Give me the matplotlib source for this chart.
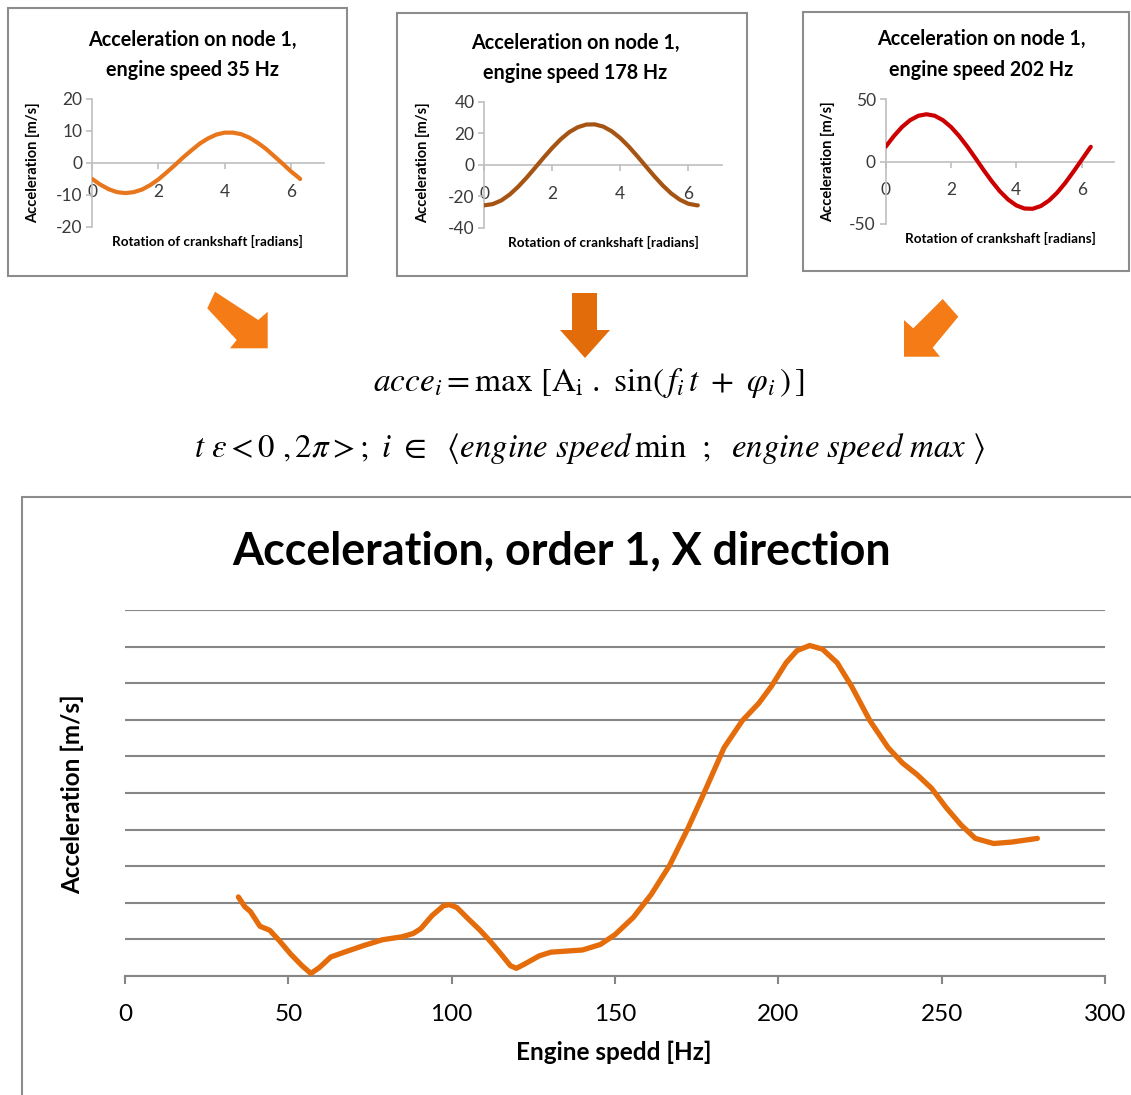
import numpy as np
import matplotlib
matplotlib.use("Agg")
import matplotlib.pyplot as plt
from matplotlib.patches import Rectangle, Polygon

W, H = 1131, 1095
plt.rcParams['font.family'] = ['Lato', 'DejaVu Sans']
plt.rcParams['mathtext.fontset'] = 'stix'
plt.rcParams['axes.unicode_minus'] = False

# ---------------- data ----------------
rotation = [0.0, 0.25, 0.5, 0.75, 1.0, 1.25, 1.5, 1.75, 2.0, 2.25, 2.5, 2.75, 3.0,
            3.25, 3.5, 3.75, 4.0, 4.25, 4.5, 4.75, 5.0, 5.25, 5.5, 5.75, 6.0, 6.25, 6.28]
acc_35 = [-5.1, -6.9, -8.3, -9.2, -9.5, -9.2, -8.4, -7.0, -5.2, -3.0, -0.7, 1.7, 3.9,
          6.0, 7.6, 8.8, 9.4, 9.4, 8.9, 7.8, 6.2, 4.3, 2.0, -0.3, -2.7, -4.8, -5.1]
acc_178 = [-25.8, -25.0, -22.7, -18.9, -13.9, -8.1, -1.8, 4.6, 10.7, 16.2, 20.7, 23.8, 25.5,
           25.6, 24.2, 21.2, 16.9, 11.5, 5.4, -1.0, -7.3, -13.2, -18.3, -22.2, -24.8, -25.8, -25.8]
acc_202 = [12.0, 20.5, 27.8, 33.3, 36.8, 38.0, 36.8, 33.3, 27.8, 20.5, 12.0, 2.7, -6.8,
           -15.8, -23.9, -30.4, -35.1, -37.6, -37.8, -35.6, -31.2, -24.9, -17.0, -8.0, 1.4, 10.8, 11.9]

small_speeds = [35, 178, 202]
small_yticks = [[-20, -10, 0, 10, 20], [-40, -20, 0, 20, 40], [-50, 0, 50]]
small_xticks = [0, 2, 4, 6]

engine_speed = [34.7, 36.7, 38.4, 41.3, 44.3, 47.2, 50.7, 54.2, 56.9, 59.5, 63.0, 67.1, 73.0,
                78.8, 84.7, 88.2, 90.5, 94.0, 97.5, 99.3, 101.6, 105.2, 108.7, 111.6, 115.1,
                118.0, 119.8, 122.2, 126.8, 130.3, 135.0, 140.0, 145.5, 150.0, 155.6, 161.1,
                166.7, 172.3, 177.9, 183.4, 189.0, 194.0, 197.9, 202.4, 205.7, 209.6, 213.5,
                218.0, 222.4, 228.0, 233.6, 238.0, 242.5, 246.9, 251.4, 255.9, 260.3, 265.9,
                271.5, 279.3]
max_accel = [2.16, 1.89, 1.76, 1.36, 1.25, 0.97, 0.60, 0.28, 0.07, 0.23, 0.52, 0.65, 0.83,
             0.99, 1.07, 1.16, 1.29, 1.65, 1.92, 1.95, 1.87, 1.55, 1.25, 0.97, 0.60,
             0.28, 0.21, 0.32, 0.55, 0.65, 0.68, 0.71, 0.86, 1.13, 1.60, 2.23,
             3.02, 4.03, 5.13, 6.24, 6.98, 7.45, 7.92, 8.56, 8.89, 9.03, 8.93,
             8.56, 7.92, 6.98, 6.24, 5.82, 5.50, 5.13, 4.60, 4.13, 3.76, 3.62,
             3.66, 3.76]
main_xticks = [0, 50, 100, 150, 200, 250, 300]
main_grid = [0, 1, 2, 3, 4, 5, 6, 7, 8, 9, 10]

fig = plt.figure(figsize=(W / 100, H / 100), dpi=100)


def fx(x):
    return x / W


def fy(y):
    return 1 - y / H


def rect_px(x0, y0, x1, y1):
    return [fx(x0), fy(y1), (x1 - x0) / W, (y1 - y0) / H]


def box(x0, y0, x1, y1, color='#8c8c8c', lw=1.5):
    fig.add_artist(Rectangle((fx(x0), fy(y1)), (x1 - x0) / W, (y1 - y0) / H,
                             transform=fig.transFigure, fill=False,
                             edgecolor=color, linewidth=lw))


def poly(pts, color):
    fig.add_artist(Polygon([(fx(x), fy(y)) for x, y in pts], closed=True,
                           transform=fig.transFigure, facecolor=color,
                           edgecolor='none'))


# ---------------- small charts ----------------
small = [
    dict(data=acc_35, color='#E8761C', box=(8, 8, 347, 276), ax=(92.3, 98.7, 324, 226.7),
         ylim=(-20, 20), tx=192, ty=(40, 70), ylx=33, yly=163, xlx=207, xly=241),
    dict(data=acc_178, color='#A65413', box=(397, 13, 747, 276), ax=(484.3, 101.7, 722.3, 227.7),
         ylim=(-40, 40), tx=575, ty=(43, 73), ylx=423, yly=163, xlx=603, xly=242),
    dict(data=acc_202, color='#CC0000', box=(803, 12, 1129, 271), ax=(885.7, 99.3, 1114.3, 224),
         ylim=(-50, 50), tx=981, ty=(39, 70), ylx=828, yly=162, xlx=1000, xly=238),
]

for i, s in enumerate(small):
    box(*s['box'])
    x0, y0, x1, y1 = s['ax']
    ax = fig.add_axes(rect_px(x0, y0, x1, y1))
    ax.set_facecolor('none')
    ax.plot(rotation, s['data'], color=s['color'], lw=3.0, solid_capstyle='round',
            solid_joinstyle='round', zorder=3)
    ax.set_xlim(0, 7)
    ax.set_ylim(*s['ylim'])
    ax.set_yticks(small_yticks[i])
    ax.set_xticks(small_xticks)
    for sp in ['top', 'right']:
        ax.spines[sp].set_visible(False)
    ax.spines['bottom'].set_position(('data', 0))
    for sp in ['left', 'bottom']:
        ax.spines[sp].set_color('#BFBFBF')
        ax.spines[sp].set_linewidth(1.2)
    ax.tick_params(axis='both', colors='#BFBFBF', labelcolor='#3a3a3a', labelsize=12.5,
                   direction='out', length=4, width=1.2)
    ax.tick_params(axis='x', pad=11)
    ax.tick_params(axis='y', pad=3)
    fig.text(fx(s['tx']), fy(s['ty'][0]), 'Acceleration on node 1,', ha='center', va='center',
             fontsize=14.2, fontweight='bold', color='black')
    fig.text(fx(s['tx']), fy(s['ty'][1]), 'engine speed %d Hz' % small_speeds[i], ha='center',
             va='center', fontsize=14.2, fontweight='bold', color='black')
    fig.text(fx(s['ylx']), fy(s['yly']), 'Acceleration [m/s]', rotation=90, ha='center',
             va='center', fontsize=10.5, fontweight='bold', color='black')
    fig.text(fx(s['xlx']), fy(s['xly']), 'Rotation of crankshaft [radians]', ha='center',
             va='center', fontsize=9.7, fontweight='bold', color='black')

# ---------------- arrows ----------------
poly([(215, 291.7), (258.3, 320), (267.7, 311.7), (267.7, 348.3), (230, 348.3),
      (236.7, 340), (207.3, 308.3)], '#F47B16')
poly([(572, 293), (597, 293), (597, 330), (610, 330), (585, 358), (560, 330), (572, 330)],
     '#E36C0A')
poly([(942.7, 299), (958.3, 316.7), (932.7, 347.7), (940, 356.7), (904, 356.7),
      (904, 320), (913.3, 328.3)], '#F47B16')

# ---------------- formulas ----------------
fig.text(fx(589), fy(383),
         r'$acce_i = \max\ \left[\mathrm{A_i}\ .\ \sin(\,f_i\,t\ +\ \varphi_i\,)\,\right]$',
         ha='center', va='center', fontsize=24, color='black')
fig.text(fx(589), fy(448),
         r'$t\ \epsilon < 0\ ,2\pi >;\ i\ \in\ \ \langle engine\ speed\,\mathrm{min}\ \ ;\ \ engine\ speed\ max\ \rangle$',
         ha='center', va='center', fontsize=23.7, color='black')

# ---------------- main chart ----------------
box(22, 497, 1145, 1110)
ax = fig.add_axes(rect_px(125, 610, 1105, 976))
ax.set_facecolor('none')
ax.plot(engine_speed, max_accel, color='#E46C0A', lw=3.8, solid_capstyle='round',
        solid_joinstyle='round', zorder=3)
ax.set_xlim(0, 300)
ax.set_ylim(0, 10)
ax.set_xticks(main_xticks)
ax.set_yticks(main_grid)
ax.yaxis.grid(True, color='#868686', lw=1.5)
ax.tick_params(axis='y', length=0, labelleft=False)
ax.tick_params(axis='x', colors='#868686', labelcolor='black', labelsize=17.5,
               direction='out', length=6, width=1.5, pad=14)
for sp in ['top', 'right', 'left']:
    ax.spines[sp].set_visible(False)
ax.spines['bottom'].set_color('#868686')
ax.spines['bottom'].set_linewidth(1.5)
ax.set_axisbelow(True)

fig.text(fx(562), fy(551), 'Acceleration, order 1, X direction', ha='center', va='center',
         fontsize=32.3, fontweight='bold', color='black')
fig.text(fx(614), fy(1052), 'Engine spedd [Hz]', ha='center', va='center',
         fontsize=17.5, fontweight='bold', color='black')
fig.text(fx(72), fy(794), 'Acceleration [m/s]', ha='center', va='center', rotation=90,
         fontsize=17.5, fontweight='bold', color='black')

fig.savefig('out.png', dpi=100, facecolor='white')
